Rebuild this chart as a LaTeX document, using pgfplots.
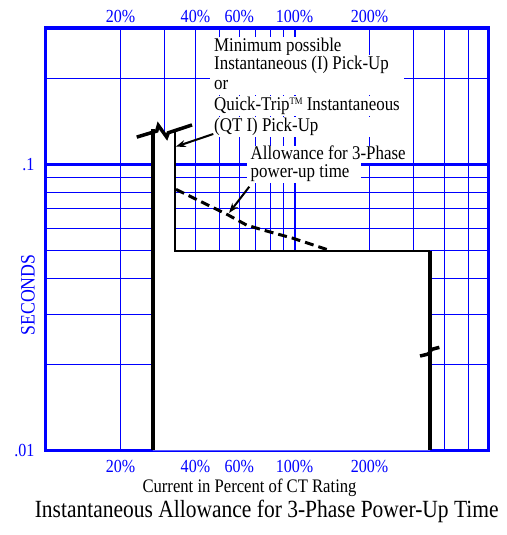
\documentclass[border=0pt]{standalone}
\usepackage{pgfplots}
\pgfplotsset{compat=1.18}
\usepackage{fontspec}
\setmainfont{Liberation Serif}[FakeStretch=0.87]
\usetikzlibrary{arrows.meta}
\pgfplotsset{
  layers/mylayers/.define layer set={axis background,axis grid,main,axis ticks,axis lines,axis tick labels,axis descriptions,axis foreground}{},
}
\newcommand\tickfont{\fontsize{18.5}{18.5}\selectfont}
\newcommand\annfont{\fontsize{19.5}{20}\selectfont}
\tikzset{
  ann/.style={fill=white, font=\annfont, inner xsep=4bp, inner ysep=0pt, text height=14.5bp, text depth=5.5bp, anchor=base west},
}
\begin{document}
\begin{tikzpicture}[x=1bp,y=1bp]
\begin{axis}[
  set layers=mylayers,
  at={(45.5bp,84.5bp)}, anchor=south west,
  scale only axis, width=442.8bp, height=422.3bp,
  xmode=log, ymode=log,
  xmin=10, xmax=600, ymin=0.01, ymax=0.3,
  xtick={20,40,60,200}, xticklabels={20\%,40\%,60\%,200\%},
  extra x ticks={100}, extra x tick labels={100\%},
  extra x tick style={major grid style={blue, line width=2bp}},
  minor xtick={30,50,70,80,90,300,400,500},
  ytick={0.01}, yticklabels={.01},
  extra y ticks={0.1}, extra y tick labels={.1},
  extra y tick style={major grid style={blue, line width=3.5bp}},
  minor ytick={0.02,0.03,0.04,0.05,0.06,0.07,0.08,0.09,0.2},
  grid=both,
  major grid style={blue, line width=1bp},
  minor grid style={blue, line width=1bp},
  tick style={draw=none},
  axis line style={blue, line width=3.5bp},
  ticklabel style={blue, font=\tickfont, inner sep=0pt},
  xticklabel style={anchor=center, yshift=-16bp},
  yticklabel style={anchor=east, xshift=-11bp},
  xlabel={Current in Percent of CT Rating},
  xlabel style={at={(axis description cs:0.4607,-0.0888)}, anchor=center, font=\fontsize{19.2}{20}\selectfont},
  ylabel={SECONDS},
  ylabel style={at={(axis description cs:-0.0395,0.3682)}, anchor=center, rotate=0, blue, font=\fontsize{20.5}{21}\selectfont},
  title={Instantaneous Allowance for 3-Phase Power-Up Time},
  title style={at={(axis description cs:0.4996,-0.1575)}, anchor=center, font=\fontsize{24.8}{26}\selectfont},
]
% white area inside the pick-up band
\addplot[fill=white, draw=none, mark=none] coordinates {(27,0.01) (27,0.1315) (28.38,0.1371) (30.67,0.1248) (31.13,0.1292) (33,0.131) (33,0.05) (350,0.05) (350,0.01) (27,0.01)};
% band edges
\addplot[black, line width=3.5bp, mark=none] coordinates {(27,0.01) (27,0.133)};
\addplot[black, line width=2.2bp, mark=none] coordinates {(33,0.131) (33,0.05) (350,0.05)};
\addplot[black, line width=3.5bp, mark=none] coordinates {(350,0.05) (350,0.01)};
% break marks
\addplot[black, line width=3.5bp, mark=none] coordinates {(23.25,0.1248) (27.97,0.1310) (28.38,0.1371) (30.67,0.1248) (31.13,0.1292) (38.76,0.1376)};
\addplot[black, line width=3.5bp, mark=none] coordinates {(319.2,0.0214) (344.6,0.02175) (355.6,0.02258) (381.5,0.02295)};
% allowance for 3-phase power-up time
\addplot[black, line width=3bp, dash pattern=on 9bp off 5bp, mark=none] coordinates {(33.43,0.0819) (54.22,0.0666) (64.27,0.0614) (74.95,0.0590) (98.9,0.0552) (134.7,0.0505)};
\end{axis}
\begin{axis}[
  at={(45.5bp,84.5bp)}, anchor=south west,
  scale only axis, width=442.8bp, height=422.3bp,
  xmode=log, ymode=log,
  xmin=10, xmax=600, ymin=0.01, ymax=0.3,
  xtick={20,40,60,100,200}, xticklabels={20\%,40\%,60\%,100\%,200\%},
  xticklabel pos=upper, ytick=\empty,
  tick style={draw=none}, axis line style={draw=none},
  ticklabel style={blue, font=\tickfont, inner sep=0pt},
  xticklabel style={anchor=center, yshift=12bp},
]
\end{axis}
% annotations
\node[ann] at (210,483.3) {Minimum possible};
\node[ann] at (210,465) {\makebox[186bp][l]{Instantaneous (I) Pick-Up}};
\node[ann] at (210,445) {\makebox[186bp][l]{or}};
\node[ann] at (210,424.3) {\makebox[186bp][l]{Quick-Trip\raisebox{6bp}{\fontsize{10}{10}\selectfont TM} Instantaneous}};
\node[ann] at (210,403.3) {\makebox[186bp][l]{(QT I) Pick-Up}};
\node[ann, text height=14bp, text depth=3.5bp] at (246.5,375) {Allowance for 3-Phase};
\node[ann, text height=14bp, text depth=5.5bp] at (246.5,357.5) {\makebox[106bp][l]{power-up time}};
\draw[line width=2bp, -{Stealth[length=10bp,width=7bp]}] (213.3,401) -- (175.7,388.3);
\draw[line width=2bp, -{Stealth[length=10bp,width=7bp]}] (249.3,348.3) -- (229,322);
\pgfresetboundingbox
\path[use as bounding box] (0,0) rectangle (507,535);
\end{tikzpicture}
\end{document}
